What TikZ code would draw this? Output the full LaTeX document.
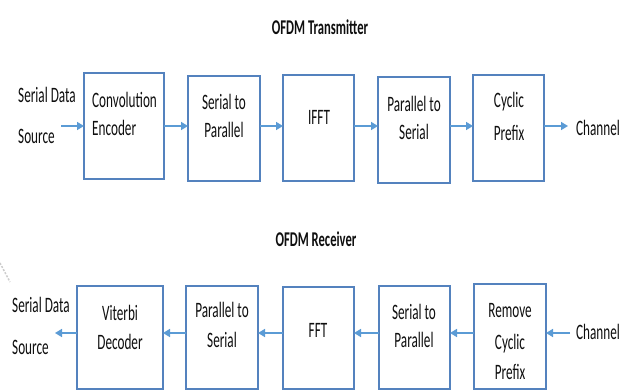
\documentclass[tikz,border=0pt]{standalone}
\usepackage{fontspec}
\setmainfont[FakeStretch=0.6]{Carlito}
\usetikzlibrary{arrows.meta}
\definecolor{boxblue}{RGB}{84,130,190}
\definecolor{arrblue}{RGB}{91,155,213}
\definecolor{txt}{RGB}{15,15,15}
\begin{document}
\begin{tikzpicture}[x=1pt,y=-1pt,
  box/.style={draw=boxblue, line width=1.1pt, inner sep=0pt, outer sep=0pt, anchor=north west},
  lbl/.style={font=\fontsize{22}{29}\selectfont, text=txt, inner sep=0pt, anchor=base},
  lblw/.style={lbl, anchor=base west},
  ttl/.style={lbl, font=\fontsize{21}{29}\selectfont\bfseries},
  arr/.style={draw=arrblue, line width=1.6pt, -{Triangle[length=7pt,width=8pt]}}]
\useasboundingbox (0,0) rectangle (621,391);
\fill[white] (0,0) rectangle (621,391);
% artifact
\draw[gray!40, line width=1.5pt, dash pattern=on 2pt off 1.5pt] (0,263) -- (10,282);

% ---------- Transmitter ----------
\node[ttl] (tt) at (320,34) {OFDM Transmitter};
\node[box, minimum width=80pt, minimum height=106pt] (b1) at (84,73) {};
\node[box, minimum width=72pt, minimum height=105pt] (b2) at (188,76) {};
\node[box, minimum width=71pt, minimum height=106pt] (b3) at (283,75) {};
\node[box, minimum width=72pt, minimum height=106pt] (b4) at (378,77) {};
\node[box, minimum width=71pt, minimum height=106pt] (b5) at (473,75) {};

\node[lblw] (s1) at (18,102) {Serial Data};
\node[lblw] (s2) at (18,143) {Source};
\node[lblw] (b1a) at (92,107) {Convolution};
\node[lblw] (b1b) at (92,135) {Encoder};
\node[lbl] (b2a) at (224,109) {Serial to};
\node[lbl] (b2b) at (224,137) {Parallel};
\node[lbl] (b3a) at (319,124) {IFFT};
\node[lbl] (b4a) at (414,111) {Parallel to};
\node[lbl] (b4b) at (414,139) {Serial};
\node[lbl] (b5a) at (509,107) {Cyclic};
\node[lbl] (b5b) at (509,140) {Prefix};
\node[lblw] (ch1) at (576,135) {Channel};

\coordinate (src) at (61,126);
\coordinate (out) at (568,126);
\draw[arr] (src) -- (b1.west |- src);
\draw[arr] (b1.east |- src) -- (b2.west |- src);
\draw[arr] (b2.east |- src) -- (b3.west |- src);
\draw[arr] (b3.east |- src) -- (b4.west |- src);
\draw[arr] (b4.east |- src) -- (b5.west |- src);
\draw[arr] (b5.east |- src) -- (out);

% ---------- Receiver ----------
\node[ttl] (rt) at (316,246) {OFDM Receiver};
\node[box, minimum width=86pt, minimum height=103pt] (c1) at (77,286) {};
\node[box, minimum width=72pt, minimum height=103pt] (c2) at (186,286) {};
\node[box, minimum width=71pt, minimum height=102pt] (c3) at (283,287) {};
\node[box, minimum width=71pt, minimum height=103pt] (c4) at (379,286) {};
\node[box, minimum width=72pt, minimum height=105pt] (c5) at (474,284) {};

\node[lblw] (r1) at (12,312) {Serial Data};
\node[lblw] (r2) at (12,354) {Source};
\node[lbl] (c1a) at (120,320) {Viterbi};
\node[lbl] (c1b) at (120,349) {Decoder};
\node[lbl] (c2a) at (222,317) {Parallel to};
\node[lbl] (c2b) at (222,347) {Serial};
\node[lbl] (c3a) at (318,337) {FFT};
\node[lbl] (c4a) at (414,319) {Serial to};
\node[lbl] (c4b) at (414,347) {Parallel};
\node[lbl] (c5a) at (510,317) {Remove};
\node[lbl] (c5b) at (510,349) {Cyclic};
\node[lbl] (c5c) at (510,379) {Prefix};
\node[lblw] (ch2) at (576,339) {Channel};

\coordinate (inr) at (570,333);
\coordinate (snk) at (55,333);
\draw[arr] (inr) -- (c5.east |- inr);
\draw[arr] (c5.west |- inr) -- (c4.east |- inr);
\draw[arr] (c4.west |- inr) -- (c3.east |- inr);
\draw[arr] (c3.west |- inr) -- (c2.east |- inr);
\draw[arr] (c2.west |- inr) -- (c1.east |- inr);
\draw[arr] (c1.west |- inr) -- (snk);
\end{tikzpicture}
\end{document}
